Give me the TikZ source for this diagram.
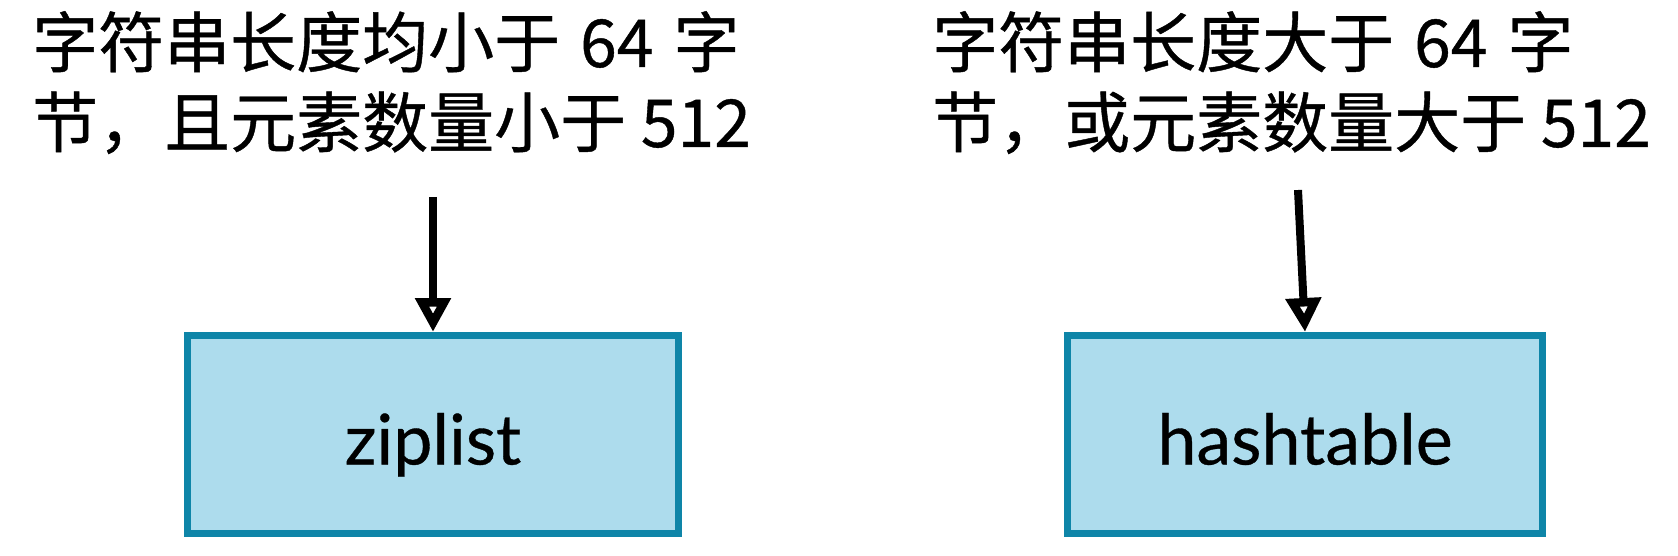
\documentclass[tikz,border=0pt]{standalone}
\usepackage{fontspec}
\newfontfamily\cjk[FakeBold=0.6]{Noto Sans CJK SC}
\newfontfamily\boxfont[FakeBold=0.5]{Lato}
\usetikzlibrary{arrows.meta}
\definecolor{boxfill}{RGB}{173,220,237}
\definecolor{boxline}{RGB}{14,133,168}
\tikzset{
  cond/.style={anchor=base west, inner sep=0pt, font=\cjk\fontsize{66pt}{80pt}\selectfont},
  encbox/.style={draw=boxline, fill=boxfill, line width=7pt, minimum height=198pt,
    inner sep=0pt, text height=60pt, text depth=0pt, font=\boxfont\fontsize{70pt}{84pt}\selectfont},
  flow/.style={line width=8pt, -{Triangle[open, length=34pt, width=34pt, line width=9pt]}}
}
\begin{document}
\begin{tikzpicture}[x=1pt,y=-1pt]
\useasboundingbox (0,0) rectangle (1678,556);
\node[cond] (l1) at (32,67) {\spaceskip=20pt 字符串长度均小于 64 字};
\node[cond] (l2) at (32,147) {节，且元素数量小于 512};
\node[cond] (r1) at (932,67) {\spaceskip=20pt 字符串长度大于 64 字};
\node[cond] (r2) at (932,147) {节，或元素数量大于 512};
\node[encbox, minimum width=491pt] (z) at (433,434.5) {ziplist};
\node[encbox, minimum width=475pt] (h) at (1305,434.5) {hashtable};
\coordinate (a1) at (433,197);
\coordinate (a2) at (1298,190);
\draw[flow] (a1) -- (z.north);
\draw[flow] (a2) -- (h.north);
\end{tikzpicture}
\end{document}
